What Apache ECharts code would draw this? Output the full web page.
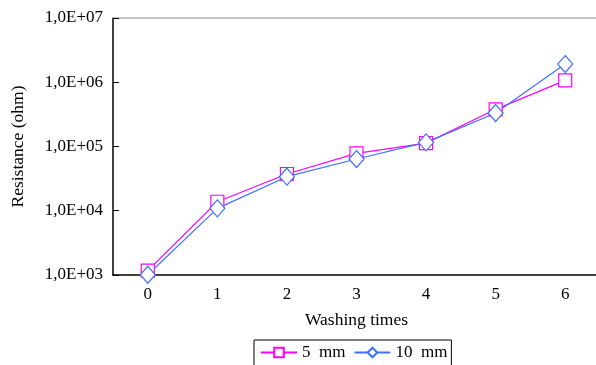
<!DOCTYPE html>
<html><head><meta charset="utf-8">
<script src="https://cdn.jsdelivr.net/npm/echarts@6/dist/echarts.min.js"></script>
<style>html,body{margin:0;padding:0;background:#fff}#c{width:596px;height:365px}</style>
</head><body><div id="c"></div>
<script>
var categories = ['0','1','2','3','4','5','6'];
var series5mm = [1170, 13800, 37300, 78000, 113000, 379000, 1070000];
var series10mm = [1010, 10900, 33900, 63800, 116000, 332000, 1920000];
var yTicks = ['1,0E+03','1,0E+04','1,0E+05','1,0E+06','1,0E+07'];

var font = 'Liberation Serif';
var chart = echarts.init(document.getElementById('c'));
chart.setOption({
  backgroundColor: '#fff',
  animation: false,
  textStyle: {fontFamily: font},
  grid: {left: 113, top: 18, width: 487, height: 257, outerBoundsMode: 'none', containLabel: false},
  legend: {
    left: 254, top: 340, orient: 'horizontal',
    borderColor: '#000', borderWidth: 1, borderRadius: 0,
    padding: [4, 4, 6, 6], itemGap: 8, itemWidth: 36, itemHeight: 12,
    textStyle: {fontFamily: font, fontSize: 17, color: '#000'},
    data: ['5  mm', '10  mm']
  },
  xAxis: [{
    type: 'category', data: categories, boundaryGap: true,
    name: 'Washing times', nameLocation: 'middle', nameGap: 36,
    nameTextStyle: {fontFamily: font, fontSize: 17.5, color: '#000'},
    axisLine: {lineStyle: {color: '#000', width: 1.5}},
    axisTick: {inside: true, length: 7, lineStyle: {color: '#000'}},
    axisLabel: {fontFamily: font, fontSize: 17, color: '#000', margin: 11},
    splitLine: {show: false}
  }, {
    type: 'category', data: categories, position: 'top',
    axisLine: {lineStyle: {color: '#b4b4b4', width: 1.5}},
    axisTick: {show: false}, axisLabel: {show: false}
  }],
  yAxis: {
    type: 'log', logBase: 10, min: 1000, max: 10000000,
    name: 'Resistance (ohm)', nameLocation: 'middle', nameGap: 86,
    nameTextStyle: {fontFamily: font, fontSize: 17.5, color: '#000'},
    axisLine: {show: true, lineStyle: {color: '#000', width: 1.5}},
    axisTick: {show: true, inside: true, length: 6, lineStyle: {color: '#000'}},
    axisLabel: {fontFamily: font, fontSize: 17, color: '#000', margin: 10,
      formatter: function (v) { var e = Math.round(Math.log10(v)); return yTicks[e - 3]; }},
    splitLine: {show: false}
  },
  series: [{
    name: '5  mm', type: 'line', data: series5mm,
    symbol: 'rect', symbolSize: 13,
    itemStyle: {color: '#fff', borderColor: '#ff00ff', borderWidth: 1.2},
    lineStyle: {color: '#ff00ff', width: 1.2},
    color: '#ff00ff'
  }, {
    name: '10  mm', type: 'line', data: series10mm,
    symbol: 'diamond', symbolSize: [15, 17],
    itemStyle: {color: '#fff', borderColor: '#4070ff', borderWidth: 1.2},
    lineStyle: {color: '#4070ff', width: 1.2},
    color: '#4070ff'
  }]
});
</script></body></html>
